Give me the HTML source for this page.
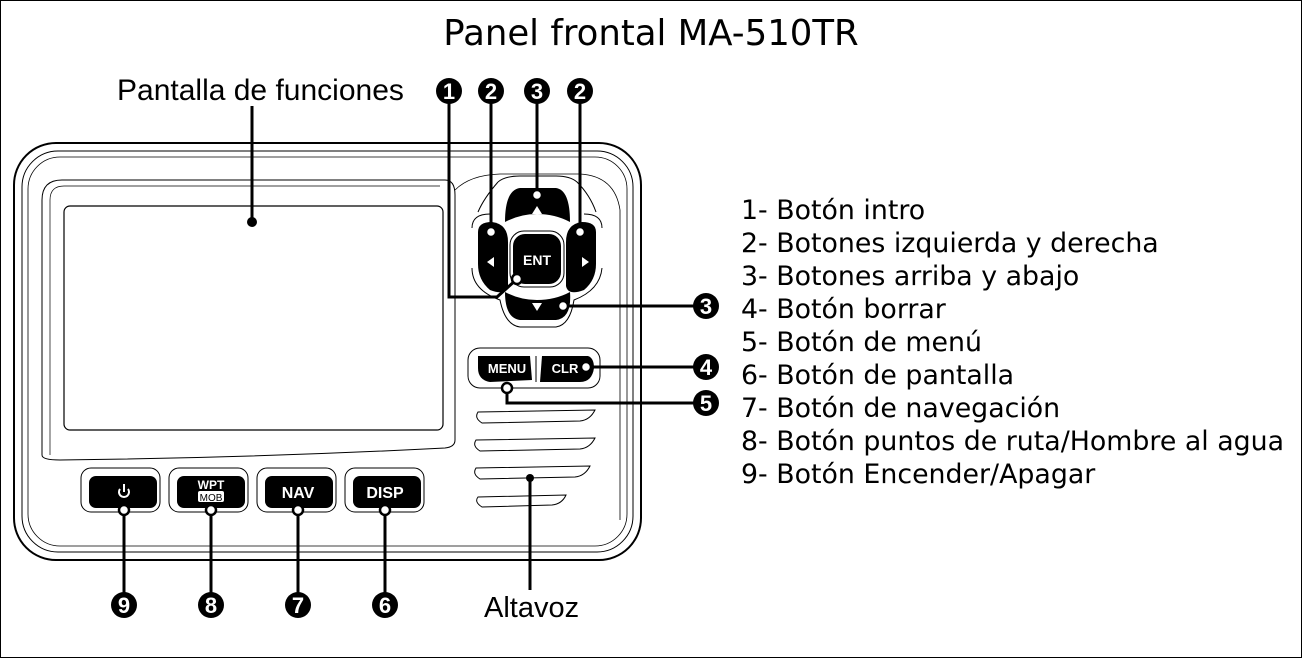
<!DOCTYPE html>
<html><head><meta charset="utf-8"><style>
html,body{margin:0;padding:0;background:#fff;}
svg{display:block;}
</style></head><body>
<svg width="1302" height="658" viewBox="0 0 1302 658" xmlns="http://www.w3.org/2000/svg">
<rect x="0.5" y="0.5" width="1301" height="657" fill="#fff" stroke="#000" stroke-width="1"/>
<text x="651" y="45" text-anchor="middle" font-family="DejaVu Sans, sans-serif" font-size="35.5" fill="#000">Panel frontal MA-510TR</text>
<text x="117" y="100" font-family="Liberation Sans, sans-serif" font-size="30" fill="#000">Pantalla de funciones</text>

<g fill="none" stroke="#000">
<rect x="14" y="143" width="627" height="417" rx="42" stroke-width="2"/>
<rect x="22" y="151" width="611" height="401" rx="36" stroke-width="1"/>
<rect x="28" y="157" width="599" height="389" rx="32" stroke-width="0.8"/>
<path d="M42 455 L42 200 Q42 180 62 180 L445 180 Q455 180 455 195 L455 440 Q455 447 445 448 Q250 458 60 460 Q42 460 42 455 Z" stroke-width="1"/>
<path d="M50 455 L50 200 Q50 186 64 186 L440 186" stroke-width="0.7"/>
<rect x="64" y="206" width="379" height="224" rx="6" stroke-width="1.2"/>
<path d="M455 190 Q470 175 500 174 L580 174 Q615 176 620 210 L620 520" stroke-width="0.8"/>
</g>

<line x1="252" y1="106" x2="252" y2="222" stroke="#000" stroke-width="3"/>
<circle cx="252" cy="222" r="5" fill="#000"/>

<g>
<path d="M498 182 Q505 176 520 176 L556 176 Q570 176 577 182 Q590 195 596 212" fill="none" stroke="#000" stroke-width="1"/>
<path d="M478 212 Q484 198 498 182" fill="none" stroke="#000" stroke-width="1"/>
<path d="M505 222 Q505 190 520 188 L556 188 Q570 190 570 222 Q555 214 537 214 Q520 214 505 222 Z" fill="#000"/>
<path d="M478 232 Q478 222 492 222 Q508 224 508 242 L508 286 Q506 296 490 290 Q478 280 478 264 Z" fill="#000"/>
<path d="M596 232 Q596 222 582 222 Q566 224 566 242 L566 286 Q568 296 584 290 Q596 280 596 264 Z" fill="#000"/>
<rect x="513" y="234" width="48" height="50" rx="12" fill="#000"/>
<rect x="510" y="231" width="54" height="56" rx="14" fill="none" stroke="#000" stroke-width="1"/>
<path d="M505 292 Q520 300 537 300 Q555 300 570 292 Q572 318 556 320 L520 320 Q505 318 505 292 Z" fill="#000"/>
<path d="M472 228 Q472 214 490 214 M602 228 Q602 214 584 214 M472 268 Q472 290 500 300 Q505 325 520 327 L556 327 Q570 325 574 300 Q600 290 602 268" fill="none" stroke="#000" stroke-width="1"/>
<polygon points="537,206 532,214 542,214" fill="#fff"/>
<polygon points="487,262 494,257 494,267" fill="#fff"/>
<polygon points="589,262 582,257 582,267" fill="#fff"/>
<polygon points="537,311 532,303 542,303" fill="#fff"/>
<text x="537" y="265" text-anchor="middle" font-family="Liberation Sans, sans-serif" font-weight="bold" font-size="14" fill="#fff">ENT</text>
</g>

<rect x="468" y="348" width="132" height="40" rx="12" fill="none" stroke="#000" stroke-width="1"/>
<path d="M478 356 L530 356 L532 380 L490 382 Q478 380 478 368 Z" fill="#000"/>
<path d="M542 356 L588 356 Q594 358 594 368 Q592 382 580 382 L540 382 Z" fill="#000"/>
<line x1="536" y1="356" x2="536" y2="382" stroke="#000" stroke-width="1"/>
<text x="507" y="373" text-anchor="middle" font-family="Liberation Sans, sans-serif" font-weight="bold" font-size="13" fill="#fff">MENU</text>
<text x="565" y="373" text-anchor="middle" font-family="Liberation Sans, sans-serif" font-weight="bold" font-size="13" fill="#fff">CLR</text>

<g fill="none" stroke="#000" stroke-width="1">
<path d="M478 412 L595 410 Q590 420 580 421 L482 423 Q474 418 478 412 Z"/>
<path d="M476 440 L595 438 Q590 448 580 449 L480 451 Q472 446 476 440 Z"/>
<path d="M476 468 L590 466 Q585 476 575 477 L480 479 Q472 474 476 468 Z"/>
<path d="M478 497 L566 495 Q562 504 552 505 L482 507 Q474 502 478 497 Z"/>
</g>

<g>
<rect x="81" y="468" width="79" height="44" rx="10" fill="none" stroke="#000" stroke-width="1"/>
<rect x="89" y="476" width="68" height="32" rx="7" fill="#000"/>
<rect x="169" y="468" width="79" height="44" rx="10" fill="none" stroke="#000" stroke-width="1"/>
<rect x="177" y="476" width="68" height="32" rx="7" fill="#000"/>
<rect x="257" y="468" width="79" height="44" rx="10" fill="none" stroke="#000" stroke-width="1"/>
<rect x="265" y="476" width="68" height="32" rx="7" fill="#000"/>
<rect x="345" y="468" width="79" height="44" rx="10" fill="none" stroke="#000" stroke-width="1"/>
<rect x="353" y="476" width="68" height="32" rx="7" fill="#000"/>
<path d="M120 489 A5 5 0 1 0 128 489" fill="none" stroke="#fff" stroke-width="2"/>
<line x1="124" y1="484" x2="124" y2="492" stroke="#fff" stroke-width="2"/>
<text x="211" y="489" text-anchor="middle" font-family="Liberation Sans, sans-serif" font-weight="bold" font-size="12" fill="#fff">WPT</text>
<rect x="198" y="491" width="26" height="11" rx="2" fill="#fff"/>
<text x="211" y="501" text-anchor="middle" font-family="Liberation Sans, sans-serif" font-size="10" fill="#000">MOB</text>
<text x="298" y="498" text-anchor="middle" font-family="Liberation Sans, sans-serif" font-weight="bold" font-size="16" fill="#fff">NAV</text>
<text x="385" y="498" text-anchor="middle" font-family="Liberation Sans, sans-serif" font-weight="bold" font-size="16" fill="#fff">DISP</text>
</g>

<g stroke="#000" stroke-width="3" fill="none">
<line x1="124" y1="510" x2="124" y2="595"/>
<line x1="211" y1="510" x2="211" y2="595"/>
<line x1="298" y1="510" x2="298" y2="595"/>
<line x1="385" y1="510" x2="385" y2="595"/>
<polyline points="449,100 449,297 497,297 517,279"/>
<line x1="491" y1="100" x2="491" y2="232"/>
<line x1="537" y1="100" x2="537" y2="195"/>
<line x1="580" y1="100" x2="580" y2="232"/>
<line x1="563" y1="306" x2="695" y2="306"/>
<line x1="586" y1="367" x2="695" y2="367"/>
<polyline points="507,388 507,403 695,403"/>
<line x1="530" y1="478" x2="530" y2="590"/>
</g>
<g fill="#fff" stroke="#000" stroke-width="2.5">
<circle cx="124" cy="510" r="5"/><circle cx="211" cy="510" r="5"/><circle cx="298" cy="510" r="5"/><circle cx="385" cy="510" r="5"/>
<circle cx="517" cy="279" r="5"/><circle cx="491" cy="232" r="5"/><circle cx="537" cy="195" r="5"/><circle cx="580" cy="232" r="5"/>
<circle cx="563" cy="306" r="5"/><circle cx="586" cy="367" r="5"/><circle cx="507" cy="388" r="5"/>
</g>
<circle cx="530" cy="478" r="4" fill="#000"/>

<g font-family="Liberation Sans, sans-serif" font-weight="bold" font-size="22" fill="#fff" text-anchor="middle">
<circle cx="449" cy="91" r="13" fill="#000"/><text x="449" y="99">1</text>
<circle cx="491" cy="91" r="13" fill="#000"/><text x="491" y="99">2</text>
<circle cx="537" cy="91" r="13" fill="#000"/><text x="537" y="99">3</text>
<circle cx="580" cy="91" r="13" fill="#000"/><text x="580" y="99">2</text>
<circle cx="706" cy="306" r="13" fill="#000"/><text x="706" y="314">3</text>
<circle cx="706" cy="367" r="13" fill="#000"/><text x="706" y="375">4</text>
<circle cx="706" cy="403" r="13" fill="#000"/><text x="706" y="411">5</text>
<circle cx="124" cy="605" r="13" fill="#000"/><text x="124" y="613">9</text>
<circle cx="211" cy="605" r="13" fill="#000"/><text x="211" y="613">8</text>
<circle cx="298" cy="605" r="13" fill="#000"/><text x="298" y="613">7</text>
<circle cx="385" cy="605" r="13" fill="#000"/><text x="385" y="613">6</text>
</g>
<text x="484" y="617" font-family="Liberation Sans, sans-serif" font-size="29" fill="#000">Altavoz</text>

<g font-family="DejaVu Sans, sans-serif" font-size="26.8" fill="#000">
<text x="741" y="219">1- Botón intro</text>
<text x="741" y="252">2- Botones izquierda y derecha</text>
<text x="741" y="285">3- Botones arriba y abajo</text>
<text x="741" y="318">4- Botón borrar</text>
<text x="741" y="351">5- Botón de menú</text>
<text x="741" y="384">6- Botón de pantalla</text>
<text x="741" y="417">7- Botón de navegación</text>
<text x="741" y="450">8- Botón puntos de ruta/Hombre al agua</text>
<text x="741" y="483">9- Botón Encender/Apagar</text>
</g>
</svg>
</body></html>
